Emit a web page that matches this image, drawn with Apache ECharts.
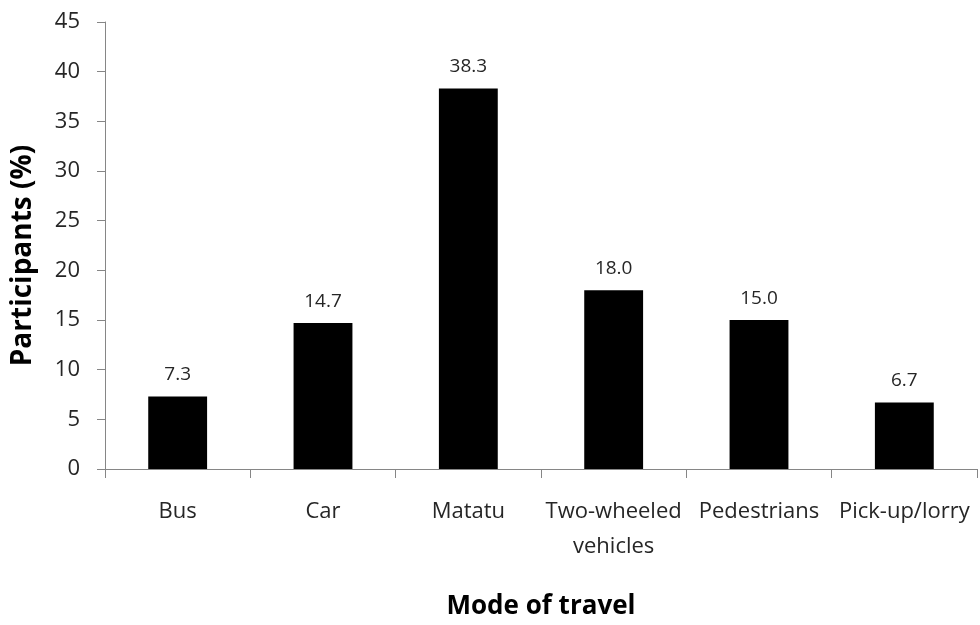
<!DOCTYPE html>
<html>
<head>
<meta charset="utf-8">
<script src="https://cdn.jsdelivr.net/npm/echarts@6/dist/echarts.min.js"></script>
<style>html,body{margin:0;padding:0;background:#fff}#c{width:980px;height:625px}</style>
</head>
<body>
<div id="c"></div>
<script>
var categories = ['Bus', 'Car', 'Matatu', 'Two-wheeled\nvehicles', 'Pedestrians', 'Pick-up/lorry'];
var participants = [7.3, 14.7, 38.3, 18.0, 15.0, 6.7];
var yTicks = { min: 0, max: 45, interval: 5 };

var chart = echarts.init(document.getElementById('c'), null, { renderer: 'canvas' });
var font = '"Open Sans", "Noto Sans", sans-serif';
chart.setOption({
  animation: false,
  backgroundColor: '#ffffff',
  grid: { left: 105, right: 3, top: 22, bottom: 153, containLabel: false },
  xAxis: {
    type: 'category',
    data: categories,
    name: 'Mode of travel',
    nameLocation: 'middle',
    nameGap: 125,
    nameTextStyle: { fontFamily: font, fontSize: 26, fontWeight: 'bold', color: '#000' },
    axisLine: { show: true, lineStyle: { color: '#868686', width: 1 } },
    axisTick: { show: true, length: 9, alignWithLabel: false, lineStyle: { color: '#868686' } },
    axisLabel: { interval: 0, margin: 25, fontFamily: font, fontSize: 22, color: '#262626', lineHeight: 35 },
    splitLine: { show: false }
  },
  yAxis: {
    type: 'value',
    min: yTicks.min,
    max: yTicks.max,
    interval: yTicks.interval,
    name: 'Participants (%)',
    nameLocation: 'middle',
    nameGap: 68,
    nameTextStyle: { fontFamily: font, fontSize: 28, fontWeight: 'bold', color: '#000', padding: [0, 20, 0, 0] },
    axisLine: { show: true, lineStyle: { color: '#868686', width: 1 } },
    axisTick: { show: true, length: 8, inside: false, lineStyle: { color: '#868686' } },
    axisLabel: { margin: 25, fontFamily: font, fontSize: 22, color: '#262626' },
    splitLine: { show: false }
  },
  series: [{
    type: 'bar',
    data: participants,
    barWidth: '40.5%',
    itemStyle: { color: '#000000' },
    label: {
      show: true,
      position: 'top',
      distance: 12,
      fontFamily: font,
      fontSize: 19,
      color: '#262626',
      formatter: function (p) { return p.value.toFixed(1); }
    }
  }]
});
</script>
</body>
</html>
